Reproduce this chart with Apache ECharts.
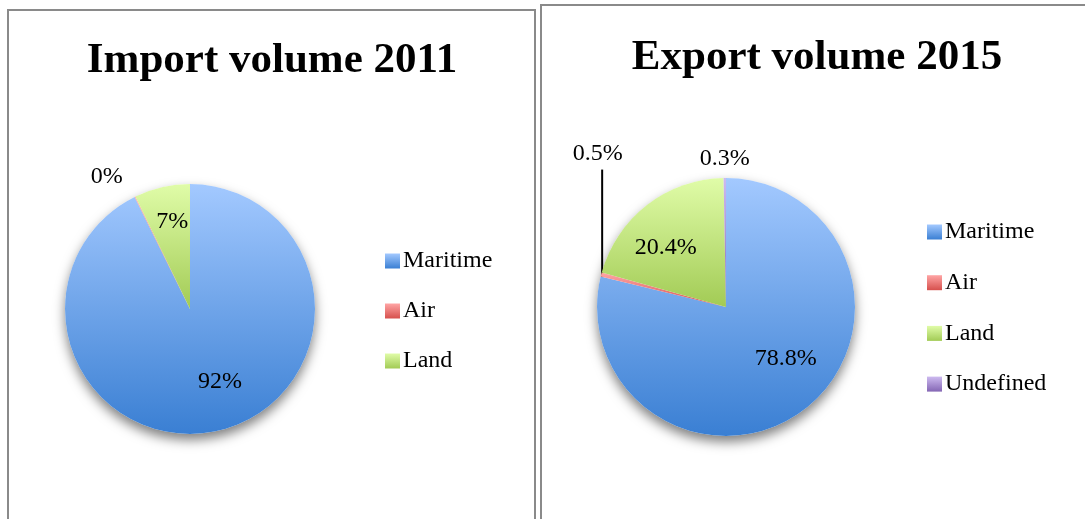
<!DOCTYPE html>
<html><head><meta charset="utf-8">
<script src="https://cdn.jsdelivr.net/npm/echarts@6/dist/echarts.min.js"></script>
<style>html,body{margin:0;padding:0;background:#fff}#c{width:1085px;height:519px}</style>
</head><body><div id="c"></div>
<script>
// ---- data ----
const titles = ['Import volume 2011', 'Export volume 2015'];
const categories2011 = ['Maritime', 'Air', 'Land'];
const values2011 = [92.7, 0.1, 7.2];
const labels2011 = ['92%', '0%', '7%'];
const categories2015 = ['Maritime', 'Air', 'Land', 'Undefined'];
const values2015 = [78.8, 0.5, 20.4, 0.3];
const labels2015 = ['78.8%', '0.5%', '20.4%', '0.3%'];

// ---- styles ----
const FONT = 'Liberation Serif';
const grad = (a, b) => ({type: 'linear', x: 0, y: 0, x2: 0, y2: 1,
  colorStops: [{offset: 0, color: a}, {offset: 1, color: b}]});
const palette = {
  Maritime: grad('#a3c9ff', '#3a7fd3'),
  Air: grad('#ffa5a5', '#d6504d'),
  Land: grad('#e0fca8', '#a2cb55'),
  Undefined: grad('#cdbaf0', '#8466b4')
};

function buildData(cats, vals, labs) {
  return cats.map((c, i) => ({
    name: c, value: vals[i],
    itemStyle: {color: palette[c]},
    label: {formatter: labs[i]}
  }));
}

const labelStyle = {show: true, position: 'inside', fontFamily: FONT, fontSize: 24, color: '#000'};

const chart = echarts.init(document.getElementById('c'), null, {renderer: 'canvas'});

const shadowDisc = (center, radius) => ({
  type: 'pie', center, radius, silent: true, z: 1,
  label: {show: false}, labelLine: {show: false},
  itemStyle: {color: '#ffffff', shadowBlur: 12, shadowOffsetY: 6, shadowColor: 'rgba(0,0,0,0.5)'},
  data: [{value: 1, name: '_shadow'}]
});

const centers = [[190, 309], [726, 307]];
const radii = [125, 129];

chart.setOption({
  animation: false,
  title: [
    {text: titles[0], left: 272, top: 39, textAlign: 'center', padding: 0,
     textStyle: {fontFamily: FONT, fontSize: 43, fontWeight: 'bold', color: '#000'}},
    {text: titles[1], left: 817, top: 36, textAlign: 'center', padding: 0,
     textStyle: {fontFamily: FONT, fontSize: 43, fontWeight: 'bold', color: '#000'}}
  ],
  legend: [
    {data: categories2011, orient: 'vertical', left: 385, top: 249, padding: 0,
     icon: 'rect', itemWidth: 15, itemHeight: 15, itemGap: 26, selectedMode: false,
     textStyle: {fontFamily: FONT, fontSize: 24, lineHeight: 24, color: '#000', padding: [0, 0, 0, -2]}},
    {data: categories2015, orient: 'vertical', left: 927, top: 220, padding: 0,
     icon: 'rect', itemWidth: 15, itemHeight: 15, itemGap: 26.7, selectedMode: false,
     textStyle: {fontFamily: FONT, fontSize: 24, lineHeight: 24, color: '#000', padding: [0, 0, 0, -2]}}
  ],
  graphic: [
    {type: 'rect', shape: {x: 8, y: 10, width: 527, height: 530}, style: {fill: 'none', stroke: '#8a8a8a', lineWidth: 2}, z: 0},
    {type: 'rect', shape: {x: 541, y: 5, width: 560, height: 530}, style: {fill: 'none', stroke: '#8a8a8a', lineWidth: 2}, z: 0}
  ],
  series: [
    shadowDisc(centers[0], radii[0]),
    shadowDisc(centers[1], radii[1]),
    {
      type: 'pie', name: titles[0], center: centers[0], radius: radii[0],
      startAngle: 90, clockwise: true, z: 2, avoidLabelOverlap: false,
      itemStyle: {borderWidth: 0},
      label: labelStyle, labelLine: {show: false},
      data: buildData(categories2011, values2011, labels2011),
      labelLayout: p => {
        const r = p.rect;
        if (p.dataIndex === 0) return {dx: 15, dy: 9};
        if (p.dataIndex === 2) return {dx: -3, dy: -23};
        return {x: r.x - 28, y: r.y - 20, align: 'center', verticalAlign: 'middle'};
      }
    },
    {
      type: 'pie', name: titles[1], center: centers[1], radius: radii[1],
      startAngle: 90, clockwise: true, z: 2, avoidLabelOverlap: false,
      itemStyle: {borderWidth: 0},
      label: labelStyle, labelLine: {show: false},
      data: buildData(categories2015, values2015, labels2015).map((d, i) =>
        i === 1 ? Object.assign(d, {label: Object.assign(d.label, {position: 'outside'}),
          labelLine: {show: true, length: 5, length2: 0, lineStyle: {color: '#000', width: 2}}}) : d),
      labelLayout: p => {
        const r = p.rect;
        if (p.dataIndex === 0) return {dx: 18, dy: -1};
        if (p.dataIndex === 2) return {dx: -19, dy: -6};
        if (p.dataIndex === 1) return {x: r.x - 3, y: r.y - 119, align: 'center', verticalAlign: 'middle',
          labelLinePoints: [[r.x + 1.5, r.y + 5], [r.x + 1.5, r.y - 103], [r.x + 1.5, r.y - 103]]};
        return {x: r.x + r.width / 2, y: r.y - 19, align: 'center', verticalAlign: 'middle'};
      }
    }
  ]
});
</script></body></html>
